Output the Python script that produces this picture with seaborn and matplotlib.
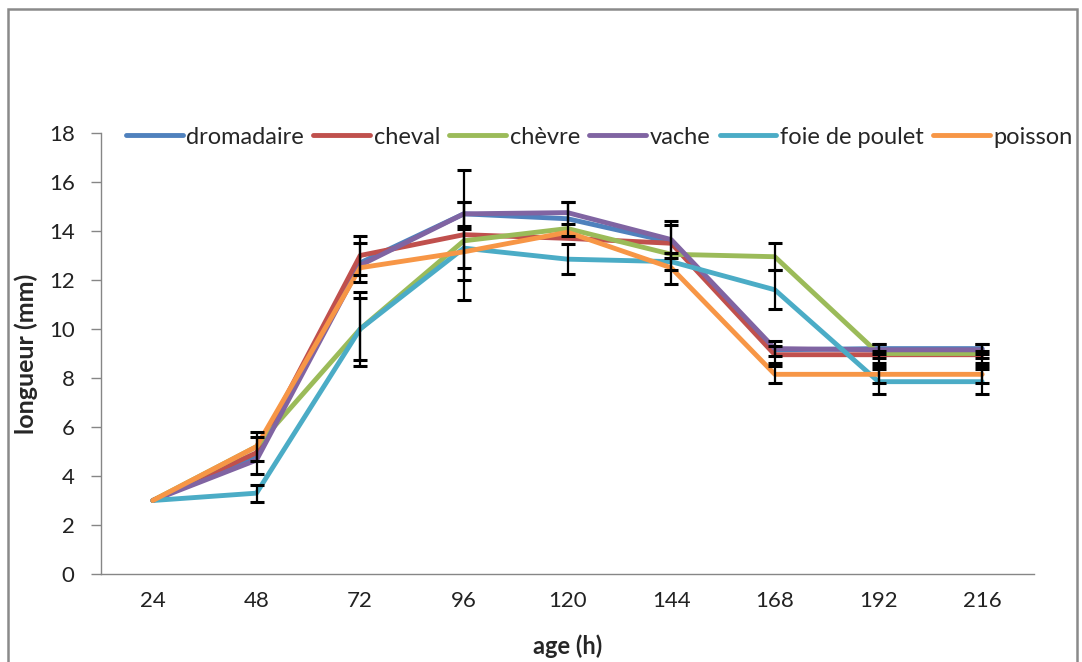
import matplotlib
matplotlib.use("Agg")
import matplotlib.pyplot as plt
import seaborn as sns
import pandas as pd
import numpy as np
from matplotlib.patches import Rectangle

ages = ["24", "48", "72", "96", "120", "144", "168", "192", "216"]
series_names = ["dromadaire", "cheval", "chèvre", "vache", "foie de poulet", "poisson"]

dromadaire = [3.0, 4.85, 12.7, 14.7, 14.5, 13.55, 9.15, 9.2, 9.2]
cheval = [3.0, 4.95, 13.0, 13.85, 13.7, 13.5, 8.95, 8.95, 8.95]
chevre = [3.0, 5.2, 10.0, 13.6, 14.1, 13.05, 12.95, 9.0, 9.0]
vache = [3.0, 4.65, 12.6, 14.7, 14.75, 13.65, 9.2, 9.15, 9.15]
foie = [3.0, 3.3, 10.0, 13.3, 12.85, 12.75, 11.6, 7.85, 7.85]
poisson = [3.0, 5.2, 12.5, 13.15, 13.95, 12.5, 8.15, 8.15, 8.15]

err_dromadaire = [0, 0.75, 0.8, 0.5, 0.7, 0, 0, 0.2, 0.2]
err_cheval = [0, 0, 0.8, 2.65, 0, 0, 0.35, 0.15, 0.15]
err_chevre = [0, 0.6, 1.5, 1.6, 0, 1.2, 0.55, 0.4, 0.4]
err_vache = [0, 0, 0, 0, 0.45, 0.75, 0.3, 0, 0]
err_foie = [0, 0.35, 1.25, 0.8, 0.6, 0.35, 0.8, 0.5, 0.5]
err_poisson = [0, 0, 0, 0, 0, 0, 0.35, 0.35, 0.35]

colors = ["#4F81BD", "#C0504D", "#9BBB59", "#8064A2", "#4BACC6", "#F79646"]

values = [dromadaire, cheval, chevre, vache, foie, poisson]
errors = [err_dromadaire, err_cheval, err_chevre, err_vache, err_foie, err_poisson]

rows = []
for name, vals in zip(series_names, values):
    for i, (a, v) in enumerate(zip(ages, vals)):
        rows.append({"pos": i, "age": a, "serie": name, "val": v})
df = pd.DataFrame(rows)

sns.set_style("white")
plt.rcParams["font.family"] = ["Lato", "DejaVu Sans"]

fig = plt.figure(figsize=(10.82, 6.62), dpi=100)
ax = fig.add_axes([101 / 1082, 1 - 574 / 662, (1034 - 101) / 1082, (574 - 133) / 662])

sns.lineplot(data=df, x="pos", y="val", hue="serie", hue_order=series_names,
             palette=colors, linewidth=3.5, ax=ax, legend=False, sort=False)

for name, vals, errs in zip(series_names, values, errors):
    e = np.array(errs)
    v = np.array(vals)
    mask = e > 0
    ax.errorbar(np.arange(len(ages))[mask], v[mask], yerr=e[mask], fmt="none",
                ecolor="black", elinewidth=1.6, capsize=5, capthick=2.2, zorder=5)

ax.set_xlim(-0.5, len(ages) - 0.5)
ax.set_ylim(0, 18)
ax.set_yticks(np.arange(0, 19, 2))
ax.set_xticks(np.arange(len(ages)))
ax.set_xticklabels(ages)
ax.set_xticks(np.arange(-0.5, len(ages), 1.0), minor=True)
ax.tick_params(axis="x", which="major", length=0, pad=12, labelsize=16, colors="#222222")
ax.tick_params(axis="x", which="minor", length=7, width=1, color="#868686", direction="out")
ax.tick_params(axis="y", which="major", length=7, width=1, color="#868686", direction="out",
               left=True, pad=12, labelsize=16, labelcolor="#222222")
for s in ["top", "right"]:
    ax.spines[s].set_visible(False)
for s in ["left", "bottom"]:
    ax.spines[s].set_color("#868686")
    ax.spines[s].set_linewidth(1)

ax.set_xlabel("age (h)", fontsize=17, fontweight="bold")
ax.set_ylabel("longueur (mm)", fontsize=18, fontweight="bold")
ax.xaxis.set_label_coords(0.5, -0.138)
ax.yaxis.set_label_coords(-0.068, 0.5)

handles = [plt.Line2D([0], [0], color=c, linewidth=3.5, solid_capstyle="round") for c in colors]
fig.legend(handles, series_names, loc="center left", bbox_to_anchor=(126 / 1082, 1 - 137 / 662),
           ncol=6, frameon=False, fontsize=17, handlelength=2.4, handletextpad=0.15,
           columnspacing=0.4, borderpad=0, borderaxespad=0)

fig.patches.append(Rectangle((8 / 1082, -0.05), (1077 - 8) / 1082, 1.05 - 9 / 662,
                             transform=fig.transFigure, fill=False, edgecolor="#8a8a8a",
                             linewidth=1.8, zorder=0))

fig.savefig("out.png", dpi=100)
